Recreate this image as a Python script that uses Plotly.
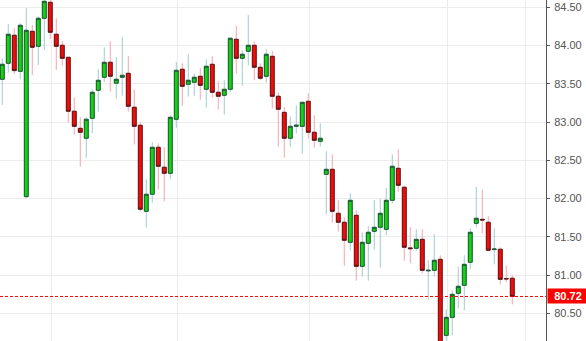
import plotly.graph_objects as go

opens = [
    83.559, 83.768, 84.134, 83.663, 82.025, 84.186, 83.990, 84.356, 84.565, 84.147,
    84.003, 83.846, 83.141, 82.918, 82.788, 83.049, 83.415, 83.585, 83.781, 83.507,
    83.585, 83.637, 83.193, 82.958, 81.833, 82.056, 82.670, 82.409, 82.330, 83.036,
    83.690, 83.493, 83.520, 83.598, 83.428, 83.755, 83.389, 83.350, 83.428, 84.082,
    83.833, 83.925, 84.003, 83.716, 83.598, 83.859, 83.337, 83.127, 82.788, 82.944,
    82.944, 83.271, 82.866, 82.748, 82.317, 82.382, 81.807, 81.690, 81.428, 81.781,
    81.114, 81.415, 81.572, 81.624, 81.598, 81.977, 82.395, 82.147, 81.355, 81.350,
    81.467, 81.055, 81.062, 81.206, 80.212, 80.447, 80.761, 80.866, 81.167, 81.676,
    81.728, 81.690, 81.333, 81.337, 80.955, 80.958,
]
closes = [
    83.755, 84.147, 83.672, 84.265, 84.199, 83.977, 84.356, 84.578, 84.173, 83.990,
    83.833, 83.141, 82.944, 82.866, 83.036, 83.389, 83.546, 83.781, 83.598, 83.559,
    83.611, 83.206, 82.944, 81.860, 82.056, 82.670, 82.422, 82.330, 83.062, 83.676,
    83.467, 83.546, 83.585, 83.480, 83.729, 83.389, 83.337, 83.428, 84.095, 83.833,
    83.886, 84.003, 83.716, 83.572, 83.886, 83.337, 83.167, 82.788, 82.944, 82.958,
    83.258, 82.866, 82.761, 82.788, 82.382, 81.833, 81.690, 81.454, 81.977, 81.114,
    81.428, 81.559, 81.624, 81.807, 81.977, 82.422, 82.173, 81.363, 81.345, 81.467,
    81.062, 81.062, 81.193, 80.100, 80.447, 80.748, 80.853, 81.140, 81.559, 81.742,
    81.720, 81.324, 81.340, 80.944, 80.950, 80.720,
]
highs = [
    83.833, 84.282, 84.225, 84.291, 84.487, 84.269, 84.378, 84.600, 84.600, 84.356,
    84.056, 83.846, 83.324, 83.062, 83.062, 83.428, 83.690, 83.977, 84.056, 83.846,
    84.112, 83.864, 83.428, 83.001, 82.252, 82.735, 82.722, 82.670, 83.088, 83.785,
    83.768, 83.886, 83.637, 83.703, 83.820, 83.859, 83.533, 83.546, 84.108, 84.256,
    83.938, 84.400, 84.056, 83.768, 83.951, 83.929, 83.389, 83.193, 83.071, 83.219,
    83.258, 83.376, 83.088, 82.984, 82.618, 82.578, 81.977, 81.755, 82.069, 81.847,
    81.559, 81.637, 81.982, 81.995, 82.134, 82.578, 82.644, 82.173, 81.624, 81.598,
    81.598, 81.193, 81.533, 81.258, 80.552, 80.801, 81.110, 81.258, 81.611, 82.156,
    82.117, 81.768, 81.611, 81.363, 81.127, 80.997,
]
lows = [
    83.223, 83.646, 83.629, 83.563, 82.008, 83.615, 83.746, 83.942, 84.086, 83.681,
    83.737, 82.992, 82.836, 82.417, 82.530, 82.853, 83.136, 83.524, 83.398, 83.306,
    83.345, 83.136, 82.705, 81.833, 81.620, 81.947, 82.117, 81.964, 82.256, 82.927,
    83.210, 83.332, 83.345, 83.293, 83.188, 83.319, 83.162, 83.097, 83.389, 83.633,
    83.476, 83.742, 83.546, 83.546, 83.515, 83.175, 82.679, 82.535, 82.679, 82.849,
    82.587, 82.783, 82.666, 82.679, 81.794, 81.685, 81.568, 81.123, 81.319, 80.927,
    80.979, 80.927, 81.332, 81.097, 81.520, 81.938, 82.090, 81.188, 81.154, 81.319,
    81.023, 80.683, 80.979, 80.050, 80.143, 80.212, 80.565, 80.539, 81.075, 81.624,
    81.546, 81.310, 81.140, 80.879, 80.905, 80.617,
]
y_ticks = [80.5, 81.0, 81.5, 82.0, 82.5, 83.0, 83.5, 84.0, 84.5]
x_grid = [8.28, 29.17, 51.17, 74.23, 87.23]

x = list(range(len(opens)))
body_hi = [max(o, c) for o, c in zip(opens, closes)]
body_lo = [min(o, c) for o, c in zip(opens, closes)]
last = closes[-1]

fig = go.Figure()
# wicks
fig.add_trace(go.Candlestick(
    x=x, open=opens, high=highs, low=lows, close=closes,
    increasing=dict(line=dict(color="#9ccbd1", width=1), fillcolor="#12d212"),
    decreasing=dict(line=dict(color="#f5a3ad", width=1), fillcolor="#f50a0a"),
    whiskerwidth=0, hoverinfo="skip", showlegend=False,
))
# bodies
fig.add_trace(go.Candlestick(
    x=x, open=opens, high=body_hi, low=body_lo, close=closes,
    increasing=dict(line=dict(color="#1e5634", width=1), fillcolor="#12d212"),
    decreasing=dict(line=dict(color="#561818", width=1), fillcolor="#f50a0a"),
    whiskerwidth=0, hoverinfo="skip", showlegend=False,
))

fig.add_shape(type="line", xref="paper", x0=0, x1=1, yref="y", y0=last, y1=last,
              line=dict(color="#ff0000", width=1, dash="3px,2px"), layer="above")
fig.add_annotation(xref="paper", x=1, xanchor="left", yref="y", y=last, yanchor="middle",
                   text="<b>%.2f</b>" % last, showarrow=False, bgcolor="#ff0000",
                   font=dict(color="white", size=11, family="Arial, Liberation Sans"),
                   width=40, height=14, borderpad=0, align="center", xshift=1)

fig.update_layout(
    width=586, height=341,
    margin=dict(l=0, r=40, t=0, b=0),
    paper_bgcolor="white", plot_bgcolor="white",
    boxgap=0.35, boxgroupgap=0,
    font=dict(family="Arial, Liberation Sans", size=11, color="#555"),
    xaxis=dict(range=[-0.38, 90.62], tickvals=x_grid, showticklabels=False,
               showgrid=True, gridcolor="#ececec", gridwidth=1, zeroline=False,
               showline=False, ticks="", rangeslider=dict(visible=False), fixedrange=True),
    yaxis=dict(side="right", range=[80.138, 84.595], tickvals=y_ticks,
               ticktext=["%.2f" % v for v in y_ticks],
               showgrid=True, gridcolor="#ececec", gridwidth=1, zeroline=False,
               showline=True, linecolor="#555", linewidth=1,
               ticks="outside", ticklen=3, tickcolor="#555", ticklabelstandoff=2,
               tickfont=dict(size=11, color="#555")),
)

fig.write_html("out.html")
